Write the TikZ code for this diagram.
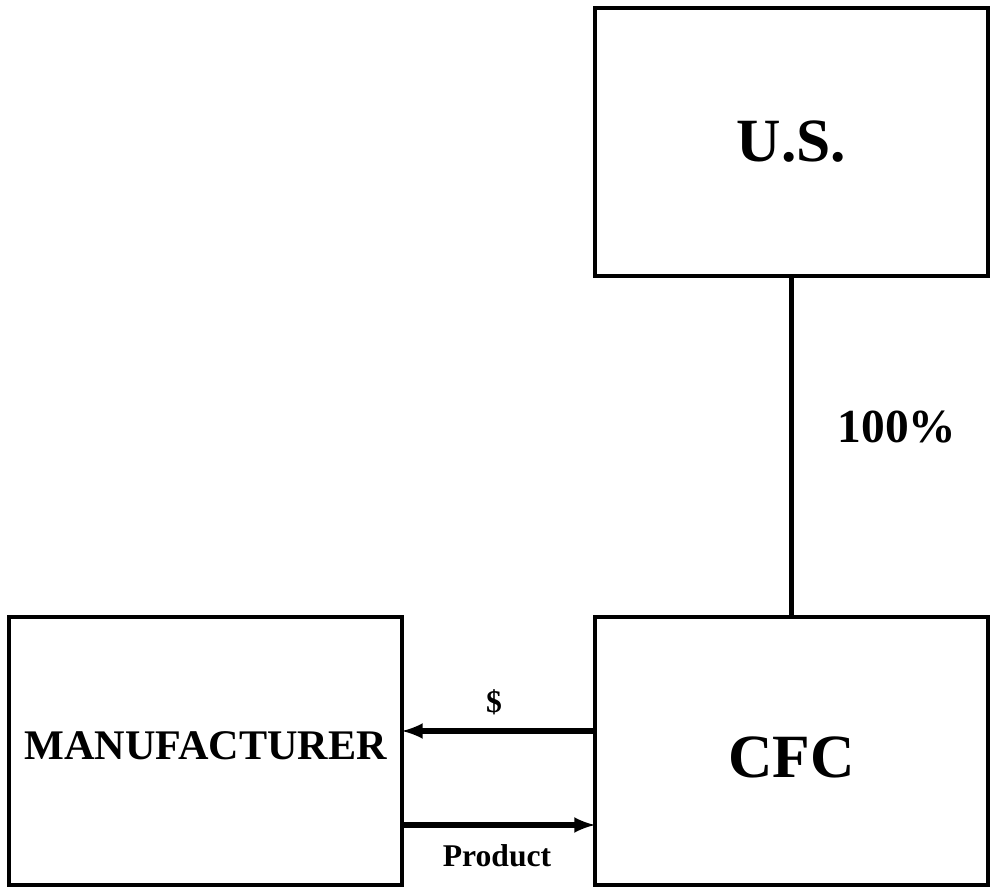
\documentclass[tikz,border=0pt]{standalone}
\usepackage{fontspec}
\setmainfont{Liberation Serif}
\usetikzlibrary{arrows, positioning}
\tikzstyle{arrow} = [line width=3pt,-latex]
\tikzstyle{entity} = [rectangle, minimum width=7.86cm, minimum height=5.36cm, text centered, draw=black, line width=2.4pt, outer sep=0pt]
\tikzstyle{label} = [font=\bfseries\fontsize{18}{20}\selectfont]

\begin{document}
\begin{tikzpicture}[x=0.02cm, y=-0.02cm]
\useasboundingbox (0,0) rectangle (995,888);

% Parent
\node (us) [entity, font=\bfseries\fontsize{35}{40}\selectfont] at (791.5,142) {U.S.};

% Subsidiary
\node (cfc) [entity, font=\bfseries\fontsize{35}{40}\selectfont] at (791.5,751) {\raisebox{-3.4pt}[\height][\depth]{CFC}};

% Manufacturer
\node (mfr) [entity, font=\bfseries\fontsize{24}{28}\selectfont] at (205.5,751) {\raisebox{2.8pt}[\height][\depth]{MANUFACTURER}};

% Ownership
\draw [line width=2.4pt] (us.south) -- (cfc.north);
\node (own) [font=\bfseries\fontsize{27}{30}\selectfont] at (897,427) {100\%};

% Flows
\draw [arrow] (cfc.west |- {0,731}) -- (mfr.east |- {0,731});
\draw [arrow] (mfr.east |- {0,825}) -- (cfc.west |- {0,825});
\node (pay) [label] at (494,702) {\$};
\node (prod) [label] at (497,856) {Product};

\end{tikzpicture}
\end{document}
